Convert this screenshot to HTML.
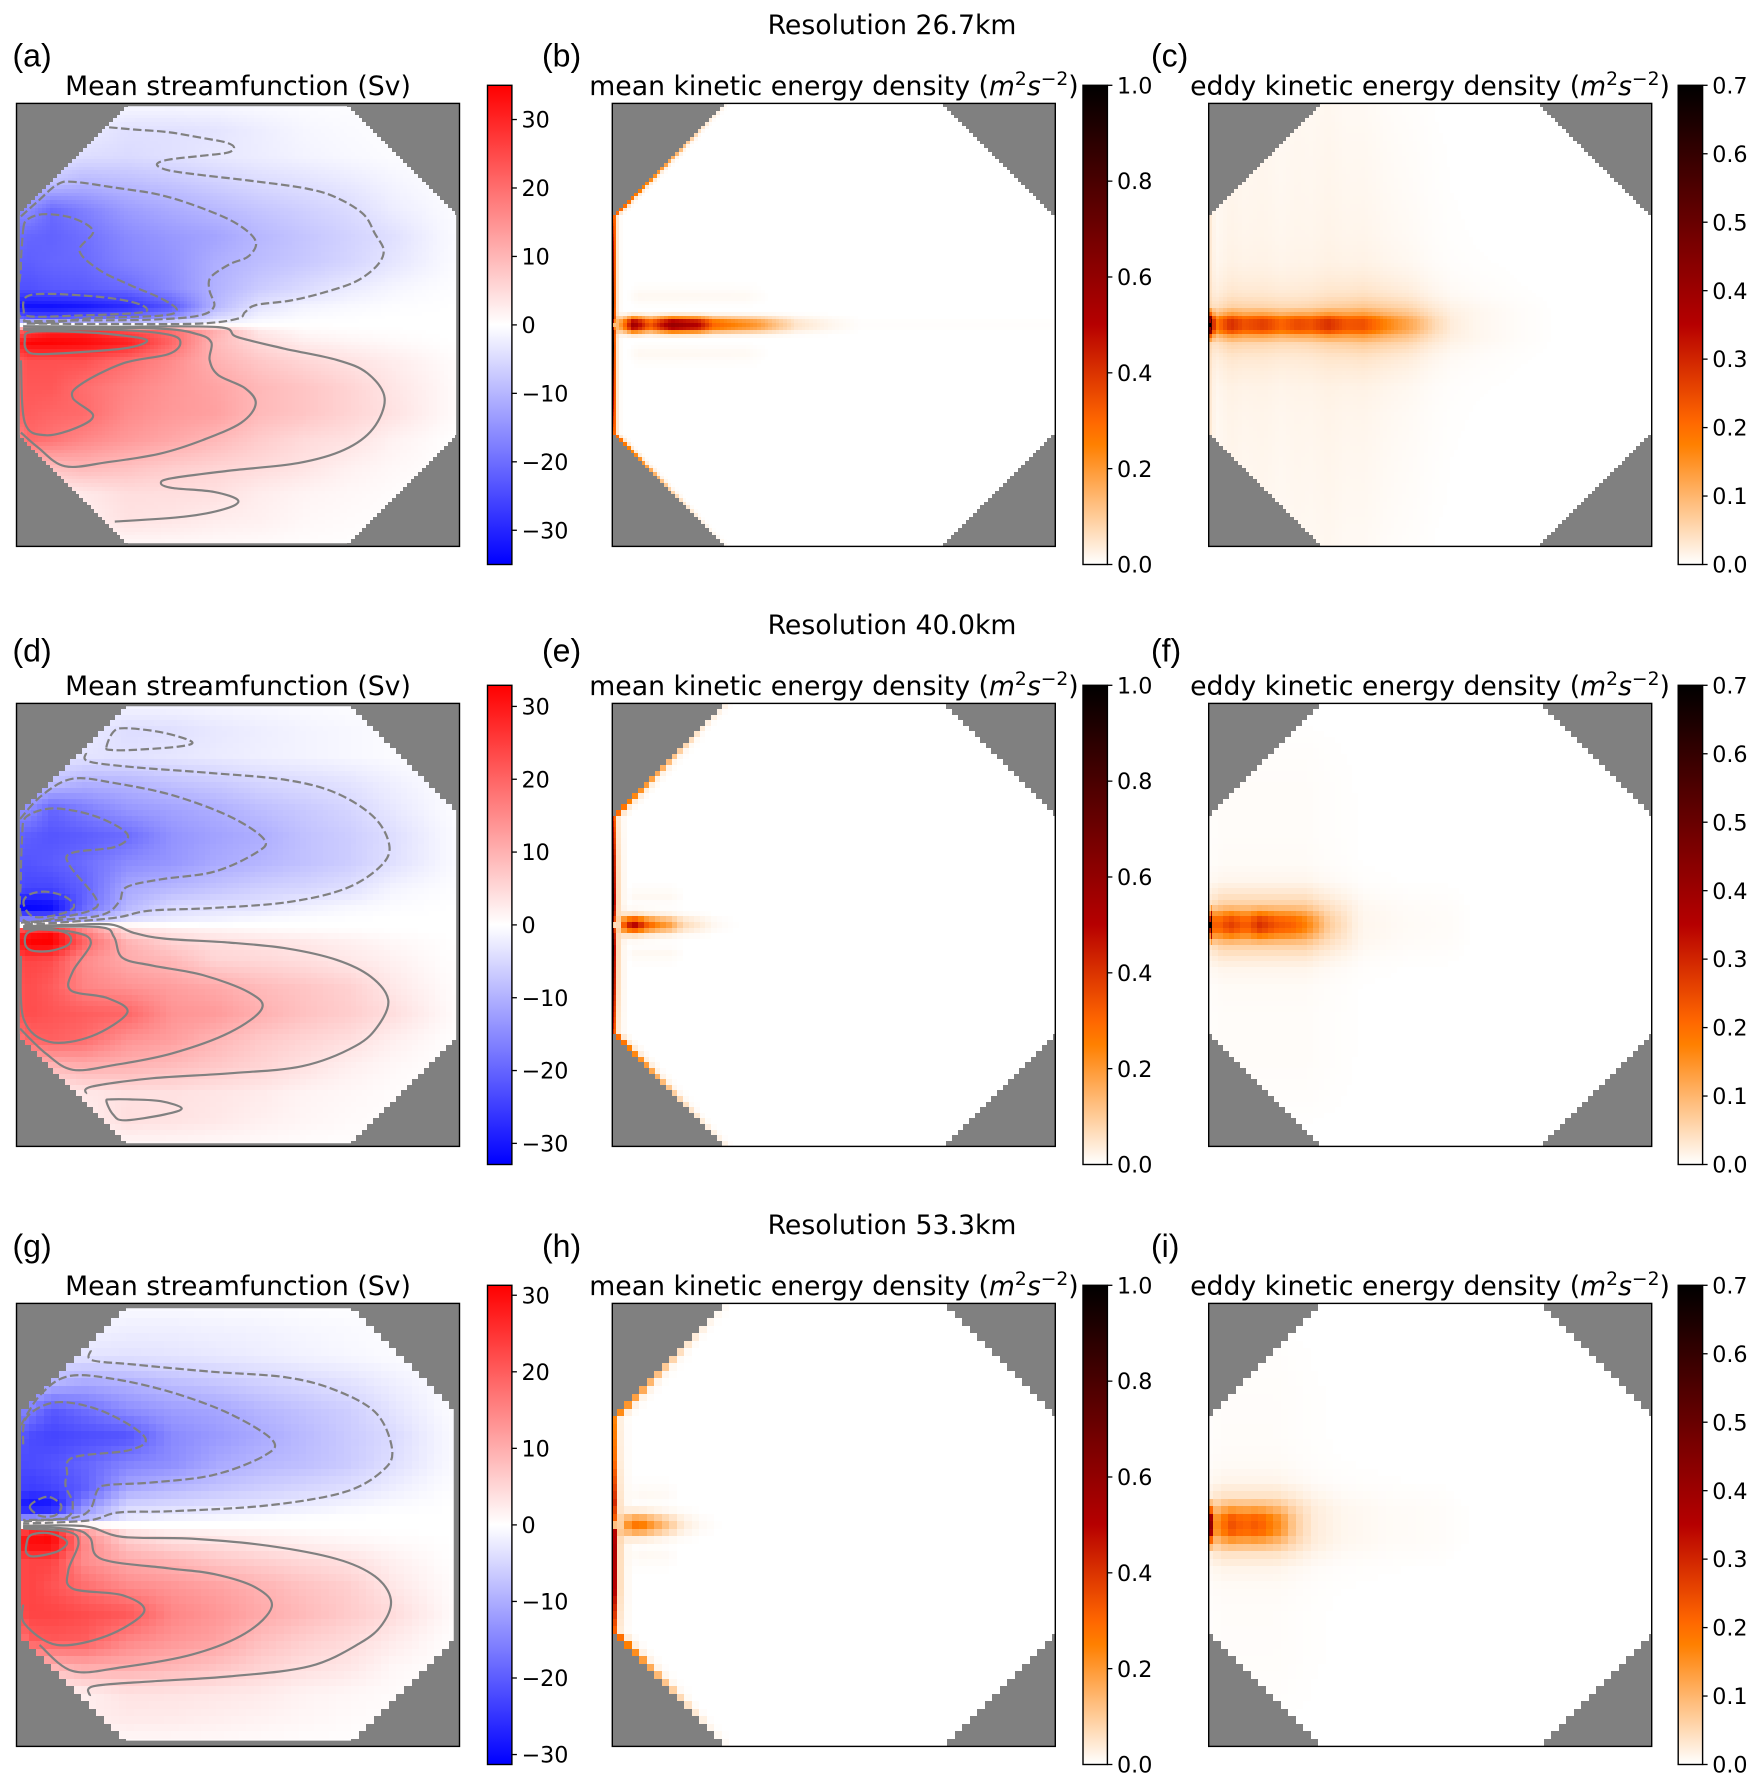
<!DOCTYPE html>
<html lang="en">
<head>
<meta charset="utf-8">
<title>Streamfunction and kinetic energy at three resolutions</title>
<style>
html,body{margin:0;padding:0;background:#fff;}
svg{display:block;}
text{fill:#000;font-family:"DejaVu Sans",sans-serif;}
.t{font-size:26.7px;text-anchor:middle;}
.l{font-size:32px;font-family:"Liberation Sans",sans-serif;}
.i{font-style:italic;}
.s{font-size:18.7px;}
.k{font-size:22.25px;}
</style>
</head>
<body>
<svg id="fig" xmlns="http://www.w3.org/2000/svg" width="1761" height="1788" viewBox="0 0 1761 1788">
<g id="panels"></g>
<text class="t" x="892" y="34">Resolution 26.7km</text>
<text class="t" x="892" y="634">Resolution 40.0km</text>
<text class="t" x="892" y="1234">Resolution 53.3km</text>

<text class="l" x="12.5" y="66.5">(a)</text>
<text class="l" x="542" y="66.5">(b)</text>
<text class="l" x="1151" y="66.5">(c)</text>
<text class="l" x="12.5" y="661.5">(d)</text>
<text class="l" x="542" y="661.5">(e)</text>
<text class="l" x="1151" y="661.5">(f)</text>
<text class="l" x="12.5" y="1257">(g)</text>
<text class="l" x="542" y="1257">(h)</text>
<text class="l" x="1151" y="1257">(i)</text>

<text class="t" x="238" y="95">Mean streamfunction (Sv)</text>
<text class="t" x="238" y="695">Mean streamfunction (Sv)</text>
<text class="t" x="238" y="1295">Mean streamfunction (Sv)</text>

<text class="t" x="834" y="95">mean kinetic energy density (<tspan class="i">m</tspan><tspan class="s" dy="-10">2</tspan><tspan class="i" dy="10">s</tspan><tspan class="s" dy="-10">−2</tspan><tspan dy="10">)</tspan></text>
<text class="t" x="834" y="695">mean kinetic energy density (<tspan class="i">m</tspan><tspan class="s" dy="-10">2</tspan><tspan class="i" dy="10">s</tspan><tspan class="s" dy="-10">−2</tspan><tspan dy="10">)</tspan></text>
<text class="t" x="834" y="1295">mean kinetic energy density (<tspan class="i">m</tspan><tspan class="s" dy="-10">2</tspan><tspan class="i" dy="10">s</tspan><tspan class="s" dy="-10">−2</tspan><tspan dy="10">)</tspan></text>

<text class="t" x="1430" y="95">eddy kinetic energy density (<tspan class="i">m</tspan><tspan class="s" dy="-10">2</tspan><tspan class="i" dy="10">s</tspan><tspan class="s" dy="-10">−2</tspan><tspan dy="10">)</tspan></text>
<text class="t" x="1430" y="695">eddy kinetic energy density (<tspan class="i">m</tspan><tspan class="s" dy="-10">2</tspan><tspan class="i" dy="10">s</tspan><tspan class="s" dy="-10">−2</tspan><tspan dy="10">)</tspan></text>
<text class="t" x="1430" y="1295">eddy kinetic energy density (<tspan class="i">m</tspan><tspan class="s" dy="-10">2</tspan><tspan class="i" dy="10">s</tspan><tspan class="s" dy="-10">−2</tspan><tspan dy="10">)</tspan></text>
</svg>

<script>
/* ---------- DATA: all coordinates are basin percent (x eastward, y from north) ---------- */
const streamX = [0,3,8,15,25,35,45,55,65,75,85,95,100];
const streamY = [0,6,12,18,24,30,36,42,46,48.5,49.7,50.3,51.5,54,58,64,70,76,82,88,94,100];

const streamA = [
[-.5,-.5,-.5,-.6,-.8,-.9,-.8,-.6,-.4,-.3,-.2,-.1,0],
[-2,-2,-2,-2.5,-4.2,-4.2,-3.7,-2.4,-1.2,-.7,-.3,-.1,0],
[-3,-3,-3.5,-4.6,-5,-4.2,-3.2,-2.5,-1.6,-1,-.5,-.2,0],
[-8,-8,-8.5,-10.2,-9.2,-8,-6.5,-5,-4.2,-3,-1.5,-.5,-.2],
[-16,-16,-20.5,-17.5,-13.5,-11.5,-9.7,-8,-6.5,-5,-2.5,-1,-.4],
[-20,-21,-21.5,-19.8,-16,-14,-12.5,-9.8,-8,-6.2,-4.3,-1.5,-.5],
[-22,-22,-21,-20.5,-17,-15,-11,-9,-7.5,-5.8,-3.5,-1.3,-.4],
[-24,-24,-23,-22.5,-20.5,-16,-10.5,-7,-4.8,-2.7,-1.2,-.4,-.2],
[-32,-33,-33,-32,-29,-23,-9.8,-3.6,-1.5,-.8,-.3,-.1,0],
[-20,-23,-23,-21,-18,-14,-5,-1.5,-.5,-.2,0,0,0],
[-5,-5,-5,-4.5,-4,-3,-1,-.2,0,0,0,0,0],
[3,4,4,4.5,4,4,3,.5,.2,.1,0,0,0],
[20,26,30,30,25,20,11,3,.8,.4,.2,0,0],
[30,35,35,34,31,21,9.5,5,2.5,1.5,.8,.2,0],
[22,24,24,24,20,16,10.5,7.5,5.5,3.9,2.5,1,.3],
[22,23,23,20,17,14.5,12.5,9.7,8,6,3.5,1.5,.3],
[22,22,21,20.5,16,14,13,9.5,8,6,4,1.5,.4],
[15,20.5,19,16.5,14,12,9.7,7,5,4,1.8,.5,0],
[5,7,9,10,8.7,7,6,5,3.8,2,1,.3,0],
[1,1,2,3,4.5,4.5,4.2,2.5,1.5,1,.5,.2,0],
[.5,.5,1,2,4,3.5,2.5,2,1,.6,.3,.1,0],
[.5,.5,.5,.5,.7,.7,.6,.5,.3,.2,.1,0,0]
];
const streamD = [
[-1,-1,-1,-1,-1.2,-1.2,-1,-.8,-.5,-.3,-.2,-.1,0],
[-1.5,-1.5,-2,-2.5,-4.4,-4.1,-3,-2.2,-1.5,-1,-.5,-.2,0],
[-3,-3,-3,-3.5,-3.8,-3.2,-2.6,-2,-1.5,-1,-.5,-.2,0],
[-7,-7,-8,-10,-9.5,-8,-7,-5.5,-4.6,-3.6,-2,-.6,-.2],
[-14,-15,-20,-17,-13.5,-12,-10.5,-8.5,-7,-5.5,-3,-1,-.3],
[-20,-21,-22,-21,-19,-14,-12,-10.5,-8,-6.5,-4.3,-1.5,-.4],
[-22,-22,-21,-19,-15,-13.5,-11,-9.5,-8,-6.5,-4,-1.5,-.4],
[-23,-24,-24,-20.5,-11,-9,-7.5,-6,-5.2,-3.9,-1.3,-.5,-.2],
[-32,-33,-32,-20,-9.5,-5,-4,-3.5,-2,-1,-.4,-.1,0],
[-20,-20,-20,-12,-5,-3,-2,-1,-.5,-.2,0,0,0],
[-4,-4,-4,-3.5,-2,-1,-.5,-.2,0,0,0,0,0],
[4,5,6,5.5,4,1,.3,.2,0,0,0,0,0],
[26,30,32,18,4.5,3,2,1.2,.8,.5,.2,0,0],
[28,33,33,20,10,6,4.4,3.8,3,2,1,.3,0],
[23,24,23,15,10.8,9,5.5,5,4.2,3,1.8,.5,.1],
[22,23,21,16,14,12.5,11,8.8,7.5,6,3,1,.2],
[22,23,22,21,19.8,14,13,10.3,8,6.5,4.3,1.5,.3],
[16,20,20.5,19,14,12.5,9.5,7,5.5,4.2,2,.6,.1],
[5,7,9,10.2,9.7,8.5,7,5.5,3.8,2,.9,.3,0],
[1,1,2,3,3.9,3.9,3.3,2.6,1.5,1,.5,.2,0],
[.5,.5,1,2,4.2,3.7,3,2,1.2,.7,.3,.1,0],
[.5,.5,.5,.6,.8,.8,.7,.5,.3,.2,.1,0,0]
];
const streamG = [
[-.3,-.3,-.3,-.4,-.5,-.5,-.4,-.3,-.2,-.1,-.1,0,0],
[-1,-1,-1,-1.5,-2,-2,-1.7,-1.5,-1,-.7,-.3,-.1,0],
[-3,-3,-3,-3.3,-3.6,-3.3,-2.8,-2.2,-1.6,-1,-.5,-.2,0],
[-7,-7,-9,-10.5,-9.5,-8,-7,-5.8,-4.7,-3.6,-2,-.6,-.2],
[-14,-16,-20.5,-18,-14,-12,-11,-9,-7.5,-6,-3.3,-1,-.3],
[-20,-22,-23,-22,-21,-14.5,-12.5,-10.5,-8.5,-6.5,-4.6,-1.5,-.4],
[-22,-22,-21,-19,-15.5,-14,-10.8,-9,-8,-6.5,-4,-1.4,-.4],
[-23,-24,-23,-20,-10.5,-8.5,-7,-5.8,-4.8,-3.8,-2,-.5,-.2],
[-28,-30,-30,-14,-4.6,-4.2,-3.5,-3,-2,-1,-.4,-.1,0],
[-14,-14,-12,-9,-3,-1.5,-1,-.5,-.2,0,0,0,0],
[-2,-2,-2,-1.5,-.8,-.4,-.2,0,0,0,0,0,0],
[3,4,4,4,1,.4,.2,0,0,0,0,0,0],
[20,26,28,12,3.5,2,1.5,1,.6,.3,.1,0,0],
[28,31,31,15,7,4.5,3.7,2.8,1.8,1.2,.6,.2,0],
[22,23,23,14,10.3,9,7,5.8,4.7,3.7,1.8,.5,.1],
[22,23,21,18,14.5,13,11.5,9.5,7.5,6,3,1,.2],
[22,23,23,22,20.5,15,13,10.5,8.5,6.5,4.4,1.5,.3],
[14,20,20.5,20,15,13,11.5,8,6,4.5,2.5,.7,.1],
[5,7,9,10.3,10.1,9,7.5,5.5,4,3,1,.3,0],
[1,1,1,2,3.5,3.4,3,2.5,1.5,1,.5,.2,0],
[.5,.5,1,2,2.5,2.4,2,1.5,1,.6,.3,.1,0],
[.3,.3,.3,.4,.5,.5,.4,.3,.2,.1,.1,0,0]
];

/* contour lines: [x, y] vertices in basin percent */
const contoursA = [
{level:-4,closed:false,points:[[20.9,5.4],[26.5,5.9],[34.3,6.5],[42,7.8],[47.2,8.8],[49.1,9.9],[47.7,11.1],[42,11.8],[34.3,12.7],[31.7,13.8],[34.3,15.1],[42,16.2],[52.4,17.4],[65.4,19.2],[72.3,21.3],[78.3,25],[80.9,29.4],[82.9,33.2],[81.3,36.7],[76.6,40.2],[69.7,42.6],[61.9,44.5],[54.1,45.5],[51.6,47.1],[49.9,48.6],[41.2,49.7],[22.2,49.8],[1.5,49.7]]},
{level:-10,closed:false,points:[[1,25.5],[4.9,22],[9.2,18.3],[12.7,17.7],[22.2,19],[32.6,20.7],[42,23.7],[49.8,27.2],[54,31.1],[52.4,34.5],[48.1,36.3],[43.8,39.3],[43.6,42.3],[44.6,45.8],[41.2,47.9],[30.8,48.8],[13.6,49],[1.5,49.2]]},
{level:-20,closed:false,points:[[1.5,28.5],[2.3,26.3],[6.2,25],[12.7,25.9],[17.3,28.9],[14.2,33.2],[18.7,37.6],[25.6,41],[32.6,44],[36.2,46.6],[32.6,47.9],[17.9,48.4],[1.5,48.8],[1,37],[1.5,28.5]]},
{level:-30,closed:true,points:[[1.6,46.6],[2.3,43.6],[7.5,43],[17.9,43.6],[25.6,44.7],[29.3,46.2],[27.4,47.3],[13.6,47.9],[3.2,48.1]]},
{level:4,closed:false,points:[[1.5,50.3],[22.2,50.4],[45.5,50.5],[49.8,52.7],[60.2,55.3],[72.3,57.9],[79.2,60.9],[83.1,66.5],[80.5,73.4],[74,78.2],[63.6,81.2],[48.1,82.9],[35.1,84.6],[32.6,85.7],[35.1,86.8],[44.6,87.7],[50,89.6],[47.2,91.5],[37.8,93.3],[22.2,94.4]]},
{level:10,closed:false,points:[[1,74.3],[4.9,77.7],[10.9,81.9],[20.5,81],[32.6,79],[42,76],[50.7,72.1],[54,67.8],[51.6,64.3],[45.5,61.3],[43.6,57.9],[44,54],[41.2,52.2],[33.4,50.9],[13.6,50.6],[1.5,50.8]]},
{level:20,closed:false,points:[[1,58],[1.9,72.1],[6.6,74.9],[13.6,73.2],[17.3,70.4],[12.7,66.5],[14.4,63.5],[24,58.7],[34.3,56.6],[37,54],[34.3,52.2],[22.2,51.1],[1.5,51.1]]},
{level:30,closed:true,points:[[1.9,53.5],[3.2,51.6],[13.6,51.6],[22.2,52.2],[29.4,53.4],[25.6,55.1],[15.3,56.1],[4.9,56.6],[2.3,55.7]]}
];
const contoursD = [
{level:-4,closed:true,points:[[20.3,9.9],[21.8,6.5],[24.4,5.6],[32.6,6.5],[39.5,8.6],[36.9,9.7],[26.5,10.5],[21.3,10.5]]},
{level:-4,closed:false,points:[[15.7,11.2],[16.3,13.1],[26.5,14.4],[43.8,15.7],[61,17.3],[72.3,20.3],[80.9,25.9],[84.2,32.4],[81.8,37.1],[74,41.9],[61,44.9],[43.8,46.2],[30,46.8],[22.2,48.4],[9.2,49.5],[1,49.9]]},
{level:-10,closed:false,points:[[0.8,26.1],[5.8,20.7],[12.7,17],[22.2,18],[35.1,20.7],[48.1,25.5],[55.9,30.7],[54.1,33.7],[44.6,38],[32.6,39.7],[24.8,41.5],[23.1,44.9],[18.7,47.9],[4.9,49.2],[1,49.5]]},
{level:-20,closed:false,points:[[1.3,28.9],[2.3,25.5],[8.4,23.7],[17.9,25.5],[25,29.5],[22.2,32.4],[12.7,33.7],[11.8,36.3],[17.9,44],[17,46.6],[9.2,48.4],[1.5,48.8],[1,39],[1.3,28.9]]},
{level:-30,closed:true,points:[[1.6,45.3],[2.8,43.2],[6.6,42.5],[10.9,43.6],[13,45.8],[10.1,47.5],[4,48.2]]},
{level:4,closed:false,points:[[1.5,50.3],[12,50],[21.3,49.9],[26.5,51.8],[33.4,53.1],[48.1,54],[61,55.3],[72.3,57.9],[80,61.7],[83.9,66.9],[81.8,72.5],[76.6,77.3],[64.5,81.9],[48.1,83.5],[30.8,84.6],[17,86.5],[15.7,88.1]]},
{level:10,closed:false,points:[[0.8,73.4],[6.6,79],[12.7,82.7],[22.2,81.6],[35.1,79],[48.1,74.3],[55.4,68.9],[52.4,65.2],[42,61.3],[30.8,59.2],[23.9,57.4],[22,52.7],[18.7,50.5],[1.5,50.6]]},
{level:20,closed:false,points:[[1,57],[1.6,71.2],[7.5,76.4],[17,75.1],[25,69.8],[20.5,66.5],[12.3,64.8],[12.7,60.5],[16.8,54],[12.7,51.6],[1.5,50.9]]},
{level:30,closed:true,points:[[1.9,54],[2.8,51.6],[7.5,50.9],[11.8,52.2],[11.8,54.4],[7.5,55.9],[3.2,55.7]]},
{level:4,closed:true,points:[[20.3,89.8],[21.3,89.4],[25.6,89.4],[32.6,89.8],[37.3,91.4],[33.4,92.8],[24.4,94.1],[21.8,92.8]]}
];
const contoursG = [
{level:-4,closed:false,points:[[16.8,10.6],[17,12.8],[26.5,13.8],[43.8,15.4],[61,16.7],[72.3,19.7],[81.3,24.9],[84.8,33.1],[82.6,37.8],[74,42.6],[56.7,45.6],[35.1,46.9],[23,47.2],[16.2,49],[1.5,49.7]]},
{level:-10,closed:false,points:[[1,27.5],[5.4,20.6],[11.8,16.4],[22.2,17.1],[35.1,20.1],[48.1,24.9],[57.8,30.9],[55.9,34.4],[44.6,38.7],[30.8,40.4],[20.5,41],[18.3,42.1],[16.6,46.5],[12.7,48.4],[1.5,49.2]]},
{level:-20,closed:false,points:[[1.5,31.8],[2.3,25.7],[9.2,22.3],[19.6,24.4],[28.9,30.1],[25.6,33.1],[12.7,34.8],[11.4,38.7],[11.1,41.3],[12.7,45.2],[11,48.4],[1.5,48.9]]},
{level:-30,closed:true,points:[[3,46],[4.9,44.3],[7.5,43.7],[10.1,45.6],[8.8,47.8],[5.4,48]]},
{level:4,closed:false,points:[[1.5,50.2],[15.3,50.3],[23.9,52.7],[39.5,53.1],[56.7,54.7],[72.3,57.7],[80.9,61.6],[84.5,66.8],[82.6,72.4],[77.5,76.7],[66.2,81.9],[48.1,84.2],[30.8,85.3],[17.4,86.4],[16.6,88.6]]},
{level:10,closed:false,points:[[5.2,77.1],[12.7,83],[24,82.1],[39.5,79.3],[51.6,74.5],[57.6,68.5],[54.1,64.2],[44.6,61.1],[34.3,59.8],[19.2,57.7],[16.6,52.9],[12.7,51],[1.5,50.4]]},
{level:20,closed:false,points:[[1.5,68],[1.9,72.4],[9.2,77.1],[20.5,75],[28.8,69.6],[24,65.9],[12.7,64.4],[11.7,60.3],[14,54.2],[11.8,51.6],[1.5,50.8]]},
{level:30,closed:true,points:[[2.2,54.7],[3.2,52.3],[7.5,51.9],[11.4,53.8],[9.2,56],[4,57.1],[2.3,56.4]]}
];

/* kinetic energy: jet along the centre line, jet cross-section, broad halo, coastal boundary layer */
const wallY = [0,5,10,15,20,25.5,35,45,48.5,49.5,50,50.5,51.5,55,65,74.5,80,85,90,95,100];
const noWall = [0,0,0,0,0,0,0,0,0,0,0,0,0,0,0,0,0,0,0,0,0];

const mkeBJetX = [0,1,2.5,4.7,8.5,13.4,19.4,22.8,27.3,32.6,37,41.6,46,50,56];
const mkeBJet = [.05,.12,.25,.58,.32,.58,.5,.3,.25,.2,.12,.05,.03,.015,.003];
const mkeBCrossOff = [0,.5,1,1.6,2.2,3];
const mkeBCross = [1,1,.8,.45,.12,0];
const mkeBSideX = [0,3,6,30,36];
const mkeBSide = [0,0,.014,.012,0];
const mkeBSideOff = [0,3.5,5,6.4,8,10.5];
const mkeBSideCross = [0,0,.4,1,.4,0];
const mkeBWall = [.01,.04,.12,.2,.26,.3,.32,.32,.3,.1,.05,.1,.3,.32,.32,.3,.22,.12,.05,.02,.01];
const mkeBEdge = [0,0,0,0,0,.3,.6,1,.9,.4,.15,.4,.9,1,.6,.3,0,0,0,0,0];
const mkeBLayers = [1,.15,.02];

const mkeEJetX = [0,1,1.6,2,4,5.5,7,10,13,16,20,23,26,30];
const mkeEJet = [0,0,.1,.25,.45,.5,.35,.24,.18,.07,.035,.012,.004,0];
const mkeECrossOff = [0,.8,1.5,2.5,4];
const mkeECross = [1,.9,.45,.12,0];
const mkeESideX = [0,3,5,13,17];
const mkeESide = [0,0,.012,.012,0];
const mkeESideOff = [0,3.5,5,6.4,8,10.5];
const mkeESideCross = [0,0,.4,1,.4,0];
const mkeEWall = [.02,.03,.08,.16,.22,.3,.42,.48,.4,.2,.06,.2,.42,.48,.42,.3,.22,.14,.06,.03,.02];
const mkeEEdge = [0,0,0,0,0,.4,.8,1,.8,.3,.1,.3,.8,1,.8,.4,0,0,0,0,0];
const mkeELayers = [1,.14,.03];

const mkeHJetX = [0,1.5,3,5,7,10,13,16,20,25,30];
const mkeHJet = [.02,.05,.18,.27,.25,.17,.1,.035,.01,0,0];
const mkeHCrossOff = [0,1.7,3.4,5];
const mkeHCross = [1,.6,.12,0];
const mkeHSideX = [0,3,6,12,16];
const mkeHSide = [0,0,.012,.01,0];
const mkeHSideOff = [0,3.5,5,7,9,11];
const mkeHSideCross = [0,0,.4,1,.4,0];
const mkeHWall = [.005,.02,.05,.11,.17,.24,.28,.42,.3,.2,.1,.25,.48,.52,.5,.3,.2,.12,.06,.02,.005];
const mkeHLayers = [1,.12,.02];

const ekeCJetX = [0,.4,1.5,5,8,12.4,16.5,20,23,27,31,35,40,43.6,47,51,55,60];
const ekeCJet = [.75,.5,.13,.23,.18,.21,.16,.2,.18,.22,.16,.16,.1,.07,.05,.02,.006,0];
const ekeCCrossOff = [0,.8,1.6,2.5,4];
const ekeCCross = [1,1,.8,.35,.05];
const ekeCHaloX = [0,5,20,35,45,50,55,62,70,80];
const ekeCHalo = [.03,.06,.05,.08,.06,.035,.018,.01,.004,0];
const ekeCHaloOff = [0,3,5,7,10,14,20,30,40,48];
const ekeCHaloCross = [1,1,.7,.4,.25,.12,.07,.04,.02,0];
const ekeCEdge = [0,0,0,0,0,0,0,0,0,.6,.75,.6,0,0,0,0,0,0,0,0,0];

const ekeFJetX = [0,.4,1.5,5,8.5,11.6,15,19,22,25,27,30,33];
const ekeFJet = [.7,.45,.12,.18,.13,.2,.15,.13,.09,.05,.02,.01,0];
const ekeFCrossOff = [0,1.2,2.4,3.5,5];
const ekeFCross = [1,.9,.55,.2,0];
const ekeFHaloX = [0,3,22,25,30,35,45,55,60];
const ekeFHalo = [.05,.085,.085,.06,.035,.012,.006,.004,0];
const ekeFHaloOff = [0,3,5,7,10,14,20,30,40,48];
const ekeFHaloCross = [1,.9,.7,.4,.15,.07,.05,.05,.03,0];
const ekeFEdge = [0,0,0,0,0,0,0,0,.2,.6,.7,.6,.2,0,0,0,0,0,0,0,0];

const ekeIJetX = [0,.7,1.5,2.5,5,8,11,14,17,19,21,24,27];
const ekeIJet = [.38,.36,.1,.1,.17,.14,.16,.11,.07,.03,.01,0,0];
const ekeICrossOff = [0,1.7,3.4,5,6.5];
const ekeICross = [1,.9,.45,.15,0];
const ekeIHaloX = [0,3,15,19,24,30,40,52,60];
const ekeIHalo = [.04,.07,.07,.05,.025,.012,.006,.004,0];
const ekeIHaloOff = [0,3,5,7,10,14,20,30,40,48];
const ekeIHaloCross = [1,1,.8,.5,.2,.09,.055,.05,.03,0];

/* colourbar ranges and tick labels */
const streamLimits = [35,32.9,31.3];
const streamTicks = [30,20,10,0,-10,-20,-30];
const mkeLimit = 1;
const mkeTicks = [0,.2,.4,.6,.8,1];
const ekeLimit = .7;
const ekeTicks = [0,.1,.2,.3,.4,.5,.6,.7];
/* model grid cells per side for each resolution row */
const gridCells = [119,79,59];
const borderInset = [[.75,.65,99.25,99.3],[.75,.65,99.25,99.3],[1.03,1.1,98.7,98.7]];
const coastLimit = [74.1,74.5,74.5];

/* ---------- LAYOUT ---------- */
const rowTops = [103.4,703.4,1303.4];
const colLefts = [16.5,612.3,1208.7];
const barLefts = [487.5,1083,1678.2];
const boxSize = 443, barW = 24.4, barH = 479.2, barRise = 18.1;
const NS = 'http://www.w3.org/2000/svg';
const root = document.getElementById('panels');
const defs = document.createElementNS(NS,'defs');
root.appendChild(defs);

function node(tag,parent,attrs){
  const el = document.createElementNS(NS,tag);
  for(const k in attrs) el.setAttribute(k,attrs[k]);
  parent.appendChild(el);
  return el;
}
function interp1(xs,ys,x){
  if(x<=xs[0]) return ys[0];
  const n=xs.length-1;
  if(x>=xs[n]) return ys[n];
  let i=0;
  while(x>xs[i+1]) i++;
  return ys[i]+(ys[i+1]-ys[i])*(x-xs[i])/(xs[i+1]-xs[i]);
}
function streamValue(m,u,v){
  let j=0; while(j<streamY.length-2 && v>streamY[j+1]) j++;
  let i=0; while(i<streamX.length-2 && u>streamX[i+1]) i++;
  const a=Math.min(1,Math.max(0,(u-streamX[i])/(streamX[i+1]-streamX[i])));
  const b=Math.min(1,Math.max(0,(v-streamY[j])/(streamY[j+1]-streamY[j])));
  return (m[j][i]*(1-a)+m[j][i+1]*a)*(1-b)+(m[j+1][i]*(1-a)+m[j+1][i+1]*a)*b;
}
function bwr(t){ /* t in [-1,1] */
  t=Math.max(-1,Math.min(1,t));
  const c=Math.round(255*(1-Math.abs(t)));
  return t<0?'rgb('+c+','+c+',255)':'rgb(255,'+c+','+c+')';
}
function heat(t){ /* gist_heat_r, t in [0,1] */
  t=Math.max(0,Math.min(1,t));
  const q=1-t;
  const r=Math.min(1,q/.7), g=Math.max(0,2*q-1), b=Math.max(0,4*q-3);
  return 'rgb('+Math.round(r*255)+','+Math.round(g*255)+','+Math.round(b*255)+')';
}
function isLand(u,v,limit){ return Math.abs(Math.min(u,99.9)-50)+Math.abs(v-50)>limit; }

function smoothPath(pts,closed,xs,ys){
  const P=pts.map(p=>[xs(p[0]),ys(p[1])]);
  const n=P.length;
  const at=i=>closed?P[(i+n)%n]:P[Math.max(0,Math.min(n-1,i))];
  let d='M'+P[0][0].toFixed(1)+' '+P[0][1].toFixed(1);
  const last=closed?n:n-1;
  for(let i=0;i<last;i++){
    const p0=at(i-1),p1=at(i),p2=at(i+1),p3=at(i+2);
    d+='C'+(p1[0]+(p2[0]-p0[0])/6).toFixed(1)+' '+(p1[1]+(p2[1]-p0[1])/6).toFixed(1)+' '+
       (p2[0]-(p3[0]-p1[0])/6).toFixed(1)+' '+(p2[1]-(p3[1]-p1[1])/6).toFixed(1)+' '+
       p2[0].toFixed(1)+' '+p2[1].toFixed(1);
  }
  return d+(closed?'Z':'');
}

function drawBox(g,col,row,id){
  const L=colLefts[col],T=rowTops[row];
  const cp=node('clipPath',defs,{id:'box-'+id});
  node('rect',cp,{x:L,y:T,width:boxSize,height:boxSize});
  return {L,T,xs:u=>L+u*boxSize/100,ys:v=>T+v*boxSize/100};
}
function drawSpine(g,ax){
  const s=node('rect',g,{x:ax.L,y:ax.T,width:boxSize,height:boxSize,fill:'none',stroke:'#000','stroke-width':1.4});
  
  
}

function drawColorbar(g,col,row,id,colorAt,limitLow,limitHigh,ticks,fmt){
  const x=barLefts[col],top=rowTops[row]-barRise;
  const grad=node('linearGradient',defs,{id:'grad-'+id,x1:0,y1:1,x2:0,y2:0});
  for(let i=0;i<=64;i++){
    const f=i/64;
    node('stop',grad,{offset:f,'stop-color':colorAt(limitLow+(limitHigh-limitLow)*f)});
  }
  const bar=node('g',g,{});
  
  
  const yOf=v=>top+barH*(1-(v-limitLow)/(limitHigh-limitLow));
  node('rect',bar,{x:x,y:top,width:barW,height:barH,fill:'url(#grad-'+id+')',stroke:'#000','stroke-width':1.4});
  ticks.forEach(t=>{
    const y=yOf(t);
    const tick=node('line',bar,{x1:x+barW,x2:x+barW+5,y1:y,y2:y,stroke:'#000','stroke-width':1.3});
    
    
    const lab=node('text',bar,{x:x+barW+9.6,y:y+8.1,class:'k'});
    
    
    lab.textContent=fmt(t);
  });
}

function drawStream(row,matrix,contours,id){
  const g=node('g',root,{});
  
  
  const ax=drawBox(g,0,row,id);
  const vmax=streamLimits[row],N=gridCells[row],ins=borderInset[row],limit=coastLimit[row];
  const land=node('rect',g,{x:ax.L,y:ax.T,width:boxSize,height:boxSize,fill:'#808080'});
  
  
  const cp=node('clipPath',defs,{id:'inset-'+id});
  node('rect',cp,{x:ax.xs(ins[0]),y:ax.ys(ins[1]),width:ax.xs(ins[2])-ax.xs(ins[0]),height:ax.ys(ins[3])-ax.ys(ins[1])});
  const cells=node('g',g,{'clip-path':'url(#inset-'+id+')','shape-rendering':'crispEdges'});
  
  
  const step=100/N;
  for(let j=0;j<N;j++){
    const v=(j+.5)*step;
    const y0=Math.round(ax.ys(j*step)),y1=Math.round(ax.ys((j+1)*step));
    for(let i=0;i<=N+1;i++){
      const x0=ins[0]+(i-1)*step,u=x0+step/2;
      if(isLand(u,v,limit)||u>100) continue;
      const px0=Math.round(ax.xs(x0)),px1=Math.round(ax.xs(x0+step));
      const r=document.createElementNS(NS,'rect');
      r.setAttribute('x',px0);
      r.setAttribute('y',y0);
      r.setAttribute('width',px1-px0);
      r.setAttribute('height',y1-y0);
      r.setAttribute('fill',bwr(streamValue(matrix,u,v)/vmax));
      
      
      cells.appendChild(r);
    }
  }
  const lines=node('g',g,{'clip-path':'url(#box-'+id+')',fill:'none',stroke:'#808080','stroke-width':2.2});
  
  
  contours.forEach(c=>{
    const p=node('path',lines,{d:smoothPath(c.points,c.closed,ax.xs,ax.ys)});
    if(c.level<0) p.setAttribute('stroke-dasharray','8.5 3.5');
    
    
  });
  drawSpine(g,ax);
  drawColorbar(g,0,row,id,v=>bwr(v/vmax),-vmax,vmax,streamTicks,t=>(t<0?'\u2212':'')+Math.abs(t));
}

function drawEnergy(col,row,id,spec,vmax,ticks){
  const g=node('g',root,{});
  
  
  const ax=drawBox(g,col,row,id);
  const N=gridCells[row],ins=borderInset[row],step=100/N,limit=coastLimit[row];
  const bg=node('rect',g,{x:ax.L,y:ax.T,width:boxSize,height:boxSize,fill:'#fff'});
  
  
  const cells=node('g',g,{'clip-path':'url(#box-'+id+')','shape-rendering':'crispEdges'});
  
  
  function field(u,v,i){
    const dy=Math.abs(v-50);
    let val=interp1(spec.jetX,spec.jet,u)*interp1(spec.crossOff,spec.cross,dy)
           +interp1(spec.haloX,spec.halo,u)*interp1(spec.haloOff,spec.haloCross,dy);
    if(u<50){
      const diag=(limit-(Math.abs(u-50)+Math.abs(v-50)))/step;
      const layer=Math.min(i,Math.floor(diag));
      if(layer>=0&&layer<spec.layers.length) val+=interp1(wallY,spec.wall,v)*spec.layers[layer];
    }
    return val;
  }
  for(let j=0;j<N;j++){
    const v=(j+.5)*step;
    const y0=Math.round(ax.ys(j*step)),y1=Math.round(ax.ys((j+1)*step));
    let runStart=null;
    for(let i=0;i<=N+2;i++){
      const x0=ins[0]+(i-1)*step,u=x0+step/2;
      const masked=i<=N+1&&isLand(u,v,limit);
      if(masked){ if(runStart===null) runStart=x0; continue; }
      if(runStart!==null){
        const a=Math.round(ax.xs(runStart)),b=Math.round(ax.xs(x0));
        const r=document.createElementNS(NS,'rect');
        r.setAttribute('x',a);
        r.setAttribute('y',y0);
        r.setAttribute('width',b-a);
        r.setAttribute('height',y1-y0);
        r.setAttribute('fill','#808080');
        
        
        cells.appendChild(r);
        runStart=null;
      }
      if(i>N+1||u>100) continue;
      const val=field(u,v,i);
      if(val/vmax<.0015) continue;
      const px0=Math.round(ax.xs(x0)),px1=Math.round(ax.xs(x0+step));
      const r=document.createElementNS(NS,'rect');
      r.setAttribute('x',px0);
      r.setAttribute('y',y0);
      r.setAttribute('width',px1-px0);
      r.setAttribute('height',y1-y0);
      r.setAttribute('fill',heat(val/vmax));
      
      
      cells.appendChild(r);
    }
    const e=interp1(wallY,spec.edge,v);
    if(e>.01&&!isLand(.5,v,limit)){
      const r=document.createElementNS(NS,'rect');
      r.setAttribute('x',Math.round(ax.L));
      r.setAttribute('y',y0);
      r.setAttribute('width','2');
      r.setAttribute('height',y1-y0);
      r.setAttribute('fill',heat(e/vmax));
      
      
      cells.appendChild(r);
    }
  }
  drawSpine(g,ax);
  drawColorbar(g,col,row,id,v=>heat(v/vmax),0,vmax,ticks,t=>t.toFixed(1));
}

drawStream(0,streamA,contoursA,'a');
drawStream(1,streamD,contoursD,'d');
drawStream(2,streamG,contoursG,'g');

drawEnergy(1,0,'b',{jetX:mkeBJetX,jet:mkeBJet,crossOff:mkeBCrossOff,cross:mkeBCross,haloX:mkeBSideX,halo:mkeBSide,haloOff:mkeBSideOff,haloCross:mkeBSideCross,wall:mkeBWall,edge:mkeBEdge,layers:mkeBLayers},mkeLimit,mkeTicks);
drawEnergy(1,1,'e',{jetX:mkeEJetX,jet:mkeEJet,crossOff:mkeECrossOff,cross:mkeECross,haloX:mkeESideX,halo:mkeESide,haloOff:mkeESideOff,haloCross:mkeESideCross,wall:mkeEWall,edge:mkeEEdge,layers:mkeELayers},mkeLimit,mkeTicks);
drawEnergy(1,2,'h',{jetX:mkeHJetX,jet:mkeHJet,crossOff:mkeHCrossOff,cross:mkeHCross,haloX:mkeHSideX,halo:mkeHSide,haloOff:mkeHSideOff,haloCross:mkeHSideCross,wall:mkeHWall,edge:noWall,layers:mkeHLayers},mkeLimit,mkeTicks);

drawEnergy(2,0,'c',{jetX:ekeCJetX,jet:ekeCJet,crossOff:ekeCCrossOff,cross:ekeCCross,haloX:ekeCHaloX,halo:ekeCHalo,haloOff:ekeCHaloOff,haloCross:ekeCHaloCross,wall:noWall,edge:ekeCEdge,layers:[1]},ekeLimit,ekeTicks);
drawEnergy(2,1,'f',{jetX:ekeFJetX,jet:ekeFJet,crossOff:ekeFCrossOff,cross:ekeFCross,haloX:ekeFHaloX,halo:ekeFHalo,haloOff:ekeFHaloOff,haloCross:ekeFHaloCross,wall:noWall,edge:ekeFEdge,layers:[1]},ekeLimit,ekeTicks);
drawEnergy(2,2,'i',{jetX:ekeIJetX,jet:ekeIJet,crossOff:ekeICrossOff,cross:ekeICross,haloX:ekeIHaloX,halo:ekeIHalo,haloOff:ekeIHaloOff,haloCross:ekeIHaloCross,wall:noWall,edge:noWall,layers:[1]},ekeLimit,ekeTicks);
</script>
</body>
</html>
